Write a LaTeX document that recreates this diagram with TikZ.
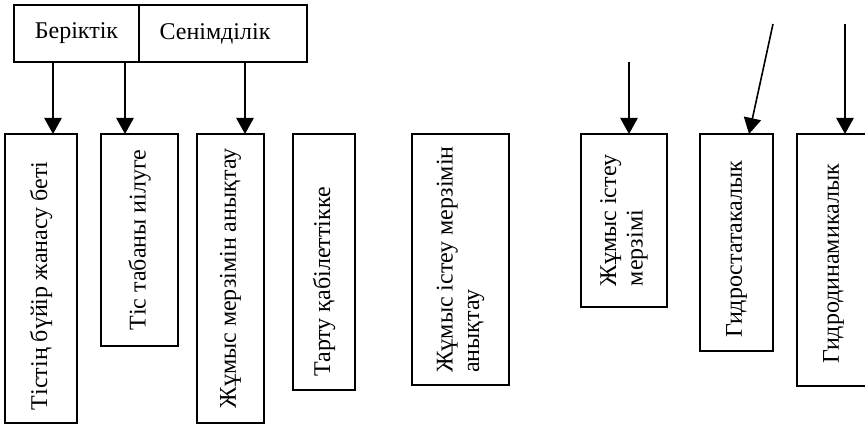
\documentclass[tikz,border=0pt]{standalone}
\usepackage{fontspec}
\setmainfont{Liberation Serif}
\usetikzlibrary{positioning,arrows.meta}

\begin{document}
\begin{tikzpicture}[
  x=0.75pt, y=-0.75pt,
  font=\fontsize{18}{20}\selectfont,
  topbox/.style={draw,line width=1.4pt,minimum height=42.75pt,inner sep=0pt,outer sep=0pt},
  vbox/.style n args={2}{draw,line width=1.4pt,rotate=90,minimum width=#1,minimum height=#2,inner sep=0pt,outer sep=0pt,align=left},
  arr/.style={-{Triangle[width=13pt,length=12pt]},line width=1.2pt}]
\useasboundingbox (0,0) rectangle (865,424);
\node[topbox,minimum width=93.75pt] (berik) at (76.5,33.5) {Беріктік};
\node[topbox,minimum width=126pt,right=0pt of berik] (senim) {Сенімділік\hspace*{12pt}};

\node[vbox={216.75pt}{54pt}] (tis) at (41,278.5) {Тістің бүйір жанасу беті\hspace*{11pt}};
\node[vbox={159pt}{57.75pt}] (taban) at (139.5,240) {Тіс табаны иілуге};
\node[vbox={216.75pt}{50.25pt}] (merzim) at (230.5,278.5) {Жұмыс мерзімін анықтау};
\node[vbox={192pt}{46.5pt}] (tartu) at (324,262) {Тарту қабілеттікке\hspace*{30pt}};
\node[vbox={188.25pt}{72.75pt}] (istey) at (460.5,259.5) {Жұмыс істеу мерзімін\\анықтау};
\node[vbox={129.75pt}{64.5pt}] (merz) at (624,220.5) {Жұмыс істеу\\мерзімі};
\node[vbox={162.75pt}{54.75pt}] (gstat) at (736.5,242.5) {Гидростатакалык\hspace*{10pt}};
\node[vbox={189pt}{54.75pt}] (gdin) at (833.5,260) {Гидродинамикалык\hspace*{6pt}};

\coordinate (a1) at (53,0);
\coordinate (a2) at (125,0);
\coordinate (a3) at (245,0);
\coordinate (s6) at (629,62);
\coordinate (s7) at (773,24);
\coordinate (s8) at (845,24);

\draw[arr] (a1 |- berik.south) -- (a1 |- tis.east);
\draw[arr] (a2 |- berik.south) -- (a2 |- taban.east);
\draw[arr] (a3 |- senim.south) -- (a3 |- merzim.east);
\draw[arr] (s6) -- (s6 |- merz.east);
\draw[arr] (s7) -- ([xshift=9.4pt]gstat.east);
\draw[arr] (s8) -- (s8 |- gdin.east);

\end{tikzpicture}
\end{document}
